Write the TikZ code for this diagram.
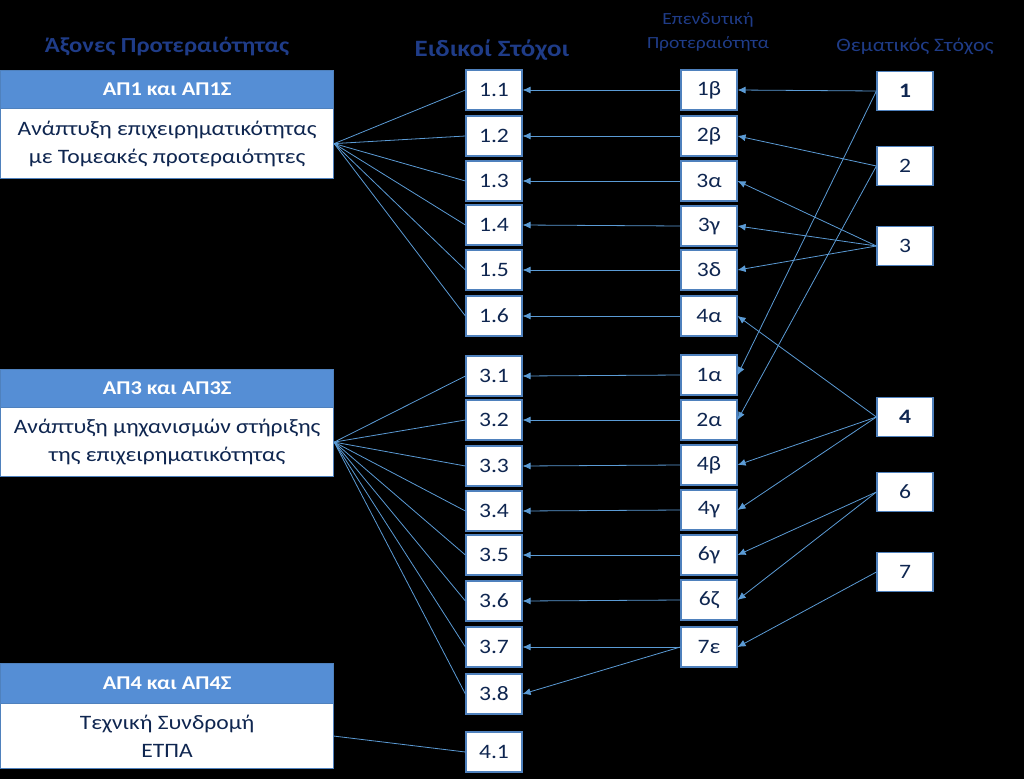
\documentclass[tikz,border=0pt]{standalone}
\usepackage{fontspec}
\setmainfont{Carlito}[FakeStretch=1.15]
\usetikzlibrary{arrows.meta}
\definecolor{boxblue}{HTML}{4F81BD}
\definecolor{headblue}{HTML}{558ED5}
\definecolor{navy}{HTML}{0F2650}
\definecolor{titleblue}{HTML}{1F3C88}
\definecolor{lineblue}{HTML}{5B9BD5}
\tikzset{
  numbox/.style={draw=boxblue, fill=white, line width=1.2pt, minimum width=56pt, minimum height=40pt, inner sep=0pt, text=navy, font=\fontsize{20.5}{23}\selectfont},
  headbox/.style={draw=boxblue, fill=headblue, line width=1.2pt, minimum width=333pt, minimum height=38pt, inner sep=0pt, anchor=north west, text=white, font=\fontsize{19.5}{22}\selectfont\bfseries},
  bodybox/.style={draw=boxblue, fill=white, line width=1.2pt, minimum width=333pt, inner sep=0pt, anchor=north west, text=navy, align=center, font=\fontsize{20.5}{28}\selectfont},
  title/.style={text=titleblue, align=center, inner sep=0pt},
  link/.style={draw=lineblue, line width=0.8pt},
  arr/.style={link, -{Latex[length=8pt,width=7pt]}},
}
\begin{document}
\begin{tikzpicture}[x=1pt,y=-1pt]
\useasboundingbox (0,0) rectangle (1024,779);
\fill[black] (0,0) rectangle (1024,779);
% titles
\node[title, font=\fontsize{21.5}{24}\selectfont\bfseries] (t1) at (167,47) {Άξονες Προτεραιότητας};
\node[title, font=\fontsize{23.4}{26}\selectfont\bfseries] (t2) at (492,50) {Ειδικοί Στόχοι};
\node[title, font=\fontsize{17}{24}\selectfont] (t3) at (708,32) {Επενδυτική\\Προτεραιότητα};
\node[title, font=\fontsize{19}{22}\selectfont] (t4) at (915,46) {Θεματικός Στόχος};
% left boxes
\node[headbox] (h1) at (0,70) {ΑΠ1 και ΑΠ1Σ};
\node[bodybox, minimum height=70pt] (b1) at (0,108) {Ανάπτυξη επιχειρηματικότητας\\με Τομεακές προτεραιότητες};
\node[headbox] (h2) at (0,369) {ΑΠ3 και ΑΠ3Σ};
\node[bodybox, minimum height=69pt] (b2) at (0,407) {Ανάπτυξη μηχανισμών στήριξης\\της επιχειρηματικότητας};
\node[headbox, minimum height=40pt] (h3) at (0,663) {ΑΠ4 και ΑΠ4Σ};
\node[bodybox, minimum height=65pt] (b3) at (0,703) {Τεχνική Συνδρομή\\ΕΤΠΑ};
% column 1
\foreach \n/\t/\y in {s11/1.1/90, s12/1.2/136, s13/1.3/181, s14/1.4/225, s15/1.5/270, s16/1.6/316,
  s31/3.1/376, s32/3.2/420, s33/3.3/466, s34/3.4/511, s35/3.5/555, s36/3.6/601, s37/3.7/647, s38/3.8/694, s41/4.1/752}
  \node[numbox] (\n) at (494,\y) {\t};
% column 2
\foreach \n/\t/\y in {p1b/1β/90, p2b/2β/136, p3a/3α/181, p3c/3γ/226, p3d/3δ/270, p4a/4α/316,
  p1a/1α/375, p2a/2α/420, p4b/4β/465, p4c/4γ/510, p6c/6γ/555, p6z/6ζ/600, p7e/7ε/647}
  \node[numbox] (\n) at (709,\y) {\t};
% column 3
\node[numbox, minimum height=39pt, font=\fontsize{20.5}{23}\selectfont\bfseries] (g1) at (905,91) {1};
\node[numbox, minimum height=39pt] (g2) at (905,166) {2};
\node[numbox, minimum height=39pt] (g3) at (905,246) {3};
\node[numbox, minimum height=39pt, font=\fontsize{20.5}{23}\selectfont\bfseries] (g4) at (905,417) {4};
\node[numbox, minimum height=39pt] (g6) at (905,492) {6};
\node[numbox, minimum height=39pt] (g7) at (905,572) {7};
% fans from left boxes
\foreach \s in {s11,s12,s13,s14,s15,s16} \draw[link] (b1.east) -- (\s.west);
\foreach \s in {s31,s32,s33,s34,s35,s36,s37,s38} \draw[link] (b2.east) -- (\s.west);
\draw[link] (b3.east) -- (s41.west);
% column 2 -> column 1
\foreach \p/\s in {p1b/s11, p2b/s12, p3a/s13, p3c/s14, p3d/s15, p4a/s16,
  p1a/s31, p2a/s32, p4b/s33, p4c/s34, p6c/s35, p6z/s36, p7e/s37, p7e/s38}
  \draw[arr] (\p.west) -- (\s.east);
% column 3 -> column 2
\foreach \g/\p in {g1/p1b, g1/p1a, g2/p2b, g2/p2a, g3/p3a, g3/p3c, g3/p3d,
  g4/p4a, g4/p4b, g4/p4c, g6/p6c, g6/p6z, g7/p7e}
  \draw[arr] (\g.west) -- (\p.east);
\end{tikzpicture}
\end{document}
